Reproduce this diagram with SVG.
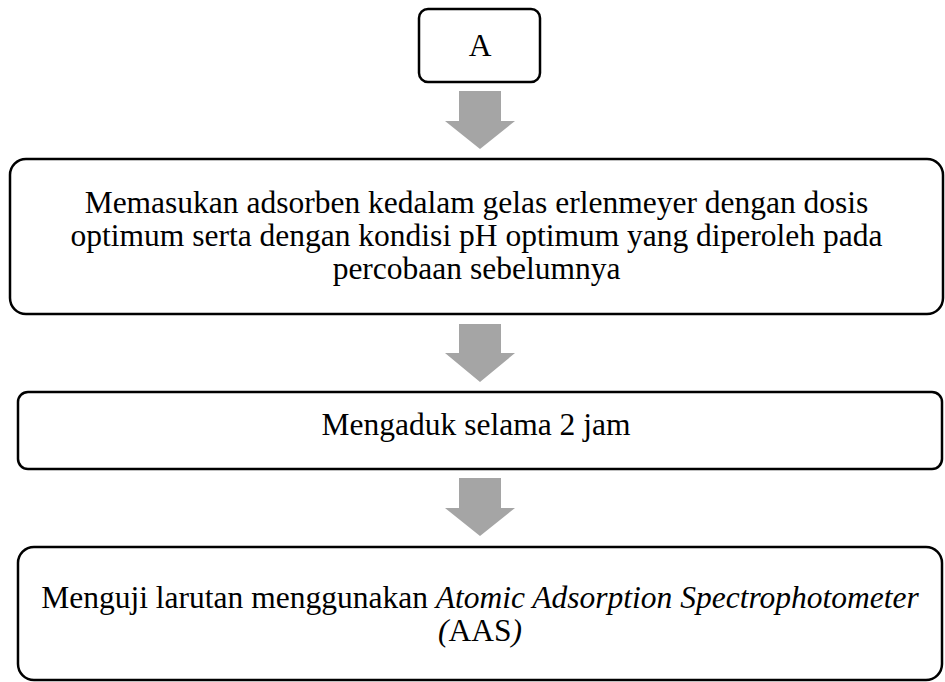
<svg xmlns="http://www.w3.org/2000/svg" width="945" height="682" viewBox="0 0 945 682">
  <style>
    .box { fill: #ffffff; stroke: #000000; stroke-width: 2.5; }
    .lbl { font-family: "Liberation Serif", "Times New Roman", serif; font-size: 31.5px; fill: #000000; text-anchor: middle; }
    .arrow { fill: #a5a5a5; stroke: none; }
  </style>
  <rect width="945" height="682" fill="#ffffff"/>

  <!-- block arrows between steps -->
  <g id="connectors">
    <polygon class="arrow" points="459,91 501,91 501,121 515,121 480,149 445,121 459,121"/>
    <polygon class="arrow" points="459,324 501,324 501,353 515,353 480,382 445,353 459,353"/>
    <polygon class="arrow" points="459,478 501,478 501,508 515,508 480,536 445,508 459,508"/>
  </g>

  <g id="node-a">
    <rect class="box" x="419" y="9" width="121" height="73" rx="9"/>
    <text class="lbl" x="480" y="56">A</text>
  </g>

  <g id="node-memasukan">
    <rect class="box" x="10" y="159" width="933" height="155" rx="16"/>
    <text class="lbl" x="476.5" y="213">Memasukan adsorben kedalam gelas erlenmeyer dengan dosis</text>
    <text class="lbl" x="476.5" y="246">optimum serta dengan kondisi pH optimum yang diperoleh pada</text>
    <text class="lbl" x="476.5" y="279">percobaan sebelumnya</text>
  </g>

  <g id="node-mengaduk">
    <rect class="box" x="18" y="392" width="924" height="77" rx="10"/>
    <text class="lbl" x="476" y="435" font-size="31px">Mengaduk selama 2 jam</text>
  </g>

  <g id="node-menguji">
    <rect class="box" x="18" y="547" width="924" height="133" rx="16"/>
    <text class="lbl" x="480" y="608" font-size="32px">Menguji larutan menggunakan <tspan font-style="italic">Atomic Adsorption Spectrophotometer</tspan></text>
    <text class="lbl" x="480" y="641" font-size="32px"><tspan font-style="italic">(</tspan>AAS<tspan font-style="italic">)</tspan></text>
  </g>
</svg>
